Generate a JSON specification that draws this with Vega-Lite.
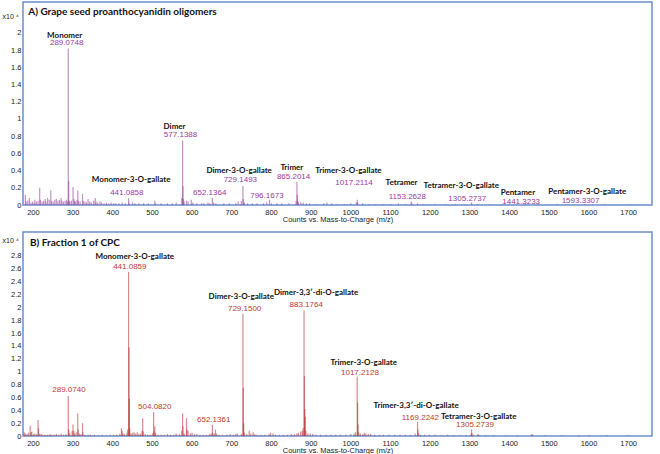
{
  "$schema": "https://vega.github.io/schema/vega-lite/v6.json",
  "background": "white",
  "padding": {"left": 1, "top": 1, "right": 0, "bottom": 0},
  "spacing": 7,
  "config": {
    "view": {"stroke": "#6a8fcb", "strokeWidth": 1.5},
    "axis": {"grid": false, "domain": false, "ticks": false, "labelOverlap": false, "labelFont": "Liberation Sans", "labelFontSize": 7.5, "labelColor": "#222", "titleFont": "Liberation Sans", "titleFontSize": 7.5, "titleFontWeight": "normal", "titleColor": "#222"}
  },
  "datasets": {
    "specA": [
      {"mz":181,"i":0.12},{"mz":183,"i":0.04},{"mz":187,"i":0.05},{"mz":191,"i":0.08},{"mz":195,"i":0.03},{"mz":199,"i":0.04},{"mz":203,"i":0.03},{"mz":205,"i":0.06},{"mz":209,"i":0.04},{"mz":213,"i":0.05},{"mz":217,"i":0.2},{"mz":219,"i":0.06},{"mz":223,"i":0.04},{"mz":227,"i":0.05},{"mz":231,"i":0.07},{"mz":233,"i":0.04},{"mz":237,"i":0.08},{"mz":241,"i":0.06},{"mz":245,"i":0.17},{"mz":247,"i":0.05},{"mz":251,"i":0.04},{"mz":255,"i":0.06},{"mz":259,"i":0.07},{"mz":263,"i":0.05},{"mz":267,"i":0.06},{"mz":271,"i":0.08},{"mz":273,"i":0.05},{"mz":277,"i":0.04},{"mz":281,"i":0.05},{"mz":285,"i":0.06},{"mz":287,"i":0.04},{"mz":289.07,"i":1.82},{"mz":290.08,"i":0.28},{"mz":291.08,"i":0.05},{"mz":293,"i":0.04},{"mz":297,"i":0.05},{"mz":301,"i":0.21},{"mz":303,"i":0.07},{"mz":305,"i":0.05},{"mz":307,"i":0.04},{"mz":311,"i":0.06},{"mz":313,"i":0.17},{"mz":315,"i":0.05},{"mz":319,"i":0.04},{"mz":325,"i":0.13},{"mz":327,"i":0.05},{"mz":331,"i":0.04},{"mz":335,"i":0.03},{"mz":339,"i":0.07},{"mz":343,"i":0.04},{"mz":347,"i":0.03},{"mz":353,"i":0.05},{"mz":357,"i":0.08},{"mz":359,"i":0.04},{"mz":363,"i":0.03},{"mz":369,"i":0.04},{"mz":373,"i":0.03},{"mz":379,"i":0.02},{"mz":385,"i":0.03},{"mz":391,"i":0.02},{"mz":397,"i":0.03},{"mz":403,"i":0.02},{"mz":409,"i":0.02},{"mz":417,"i":0.02},{"mz":425,"i":0.03},{"mz":433,"i":0.02},{"mz":441.09,"i":0.08},{"mz":442.09,"i":0.03},{"mz":451,"i":0.03},{"mz":457,"i":0.02},{"mz":467,"i":0.02},{"mz":479,"i":0.02},{"mz":491,"i":0.02},{"mz":507,"i":0.05},{"mz":509,"i":0.02},{"mz":523,"i":0.02},{"mz":539,"i":0.02},{"mz":551,"i":0.02},{"mz":561,"i":0.03},{"mz":575,"i":0.08},{"mz":577.14,"i":0.75},{"mz":578.14,"i":0.22},{"mz":579.14,"i":0.07},{"mz":581,"i":0.04},{"mz":587,"i":0.05},{"mz":591,"i":0.04},{"mz":599,"i":0.06},{"mz":603,"i":0.03},{"mz":613,"i":0.02},{"mz":625,"i":0.02},{"mz":631,"i":0.02},{"mz":641,"i":0.03},{"mz":645,"i":0.02},{"mz":652.14,"i":0.08},{"mz":655,"i":0.03},{"mz":661,"i":0.02},{"mz":681,"i":0.02},{"mz":695,"i":0.02},{"mz":711,"i":0.02},{"mz":717,"i":0.04},{"mz":725,"i":0.05},{"mz":729.15,"i":0.22},{"mz":730.15,"i":0.07},{"mz":733,"i":0.03},{"mz":741,"i":0.02},{"mz":753,"i":0.02},{"mz":765,"i":0.02},{"mz":781,"i":0.02},{"mz":789,"i":0.03},{"mz":796.17,"i":0.06},{"mz":801,"i":0.02},{"mz":815,"i":0.02},{"mz":827,"i":0.02},{"mz":845,"i":0.02},{"mz":863,"i":0.05},{"mz":865.2,"i":0.27},{"mz":866.2,"i":0.12},{"mz":867,"i":0.05},{"mz":869,"i":0.03},{"mz":875,"i":0.03},{"mz":881,"i":0.03},{"mz":889,"i":0.02},{"mz":897,"i":0.02},{"mz":913,"i":0.01},{"mz":933,"i":0.02},{"mz":941,"i":0.03},{"mz":953,"i":0.02},{"mz":967,"i":0.01},{"mz":985,"i":0.01},{"mz":1001,"i":0.02},{"mz":1015,"i":0.03},{"mz":1017.21,"i":0.06},{"mz":1018.2,"i":0.03},{"mz":1031,"i":0.02},{"mz":1047,"i":0.01},{"mz":1063,"i":0.01},{"mz":1081,"i":0.01},{"mz":1103,"i":0.01},{"mz":1121,"i":0.02},{"mz":1139,"i":0.01},{"mz":1153.26,"i":0.04},{"mz":1155,"i":0.02},{"mz":1169,"i":0.02},{"mz":1185,"i":0.01},{"mz":1213,"i":0.01},{"mz":1241,"i":0.01},{"mz":1265,"i":0.01},{"mz":1289,"i":0.01},{"mz":1305.27,"i":0.03},{"mz":1321,"i":0.01},{"mz":1351,"i":0.01},{"mz":1383,"i":0.01},{"mz":1441.32,"i":0.01},{"mz":1473,"i":0.01},{"mz":1521,"i":0.01},{"mz":1593.33,"i":0.01},{"mz":1641,"i":0.01},{"mz":1705,"i":0.01}
    ],
    "specB": [
      {"mz":178,"i":0.06},{"mz":181,"i":0.04},{"mz":185,"i":0.03},{"mz":189,"i":0.05},{"mz":193,"i":0.16},{"mz":195,"i":0.06},{"mz":197,"i":0.07},{"mz":201,"i":0.03},{"mz":205,"i":0.04},{"mz":209,"i":0.03},{"mz":213,"i":0.25},{"mz":214,"i":0.12},{"mz":217,"i":0.04},{"mz":221,"i":0.03},{"mz":225,"i":0.02},{"mz":231,"i":0.02},{"mz":237,"i":0.02},{"mz":243,"i":0.03},{"mz":247,"i":0.02},{"mz":253,"i":0.02},{"mz":259,"i":0.03},{"mz":265,"i":0.02},{"mz":271,"i":0.04},{"mz":277,"i":0.02},{"mz":283,"i":0.03},{"mz":289.07,"i":0.62},{"mz":290.08,"i":0.1},{"mz":293,"i":0.05},{"mz":299,"i":0.08},{"mz":301,"i":0.18},{"mz":303,"i":0.08},{"mz":305,"i":0.04},{"mz":309,"i":0.06},{"mz":313,"i":0.35},{"mz":314,"i":0.1},{"mz":317,"i":0.04},{"mz":321,"i":0.03},{"mz":325,"i":0.2},{"mz":326,"i":0.06},{"mz":331,"i":0.02},{"mz":339,"i":0.02},{"mz":345,"i":0.02},{"mz":355,"i":0.02},{"mz":365,"i":0.01},{"mz":375,"i":0.02},{"mz":385,"i":0.01},{"mz":395,"i":0.02},{"mz":403,"i":0.02},{"mz":411,"i":0.02},{"mz":419,"i":0.03},{"mz":423,"i":0.12},{"mz":425,"i":0.08},{"mz":427,"i":0.04},{"mz":431,"i":0.03},{"mz":437,"i":0.05},{"mz":439,"i":0.1},{"mz":441.09,"i":2.55},{"mz":442.09,"i":1.38},{"mz":443.09,"i":0.58},{"mz":444,"i":0.12},{"mz":447,"i":0.04},{"mz":451,"i":0.05},{"mz":455,"i":0.06},{"mz":459,"i":0.04},{"mz":463,"i":0.06},{"mz":467,"i":0.03},{"mz":471,"i":0.04},{"mz":475,"i":0.08},{"mz":476.5,"i":0.27},{"mz":478,"i":0.07},{"mz":483,"i":0.03},{"mz":489,"i":0.02},{"mz":495,"i":0.02},{"mz":501,"i":0.04},{"mz":504.08,"i":0.37},{"mz":505.08,"i":0.08},{"mz":507,"i":0.15},{"mz":509,"i":0.05},{"mz":515,"i":0.02},{"mz":523,"i":0.02},{"mz":531,"i":0.02},{"mz":539,"i":0.03},{"mz":547,"i":0.02},{"mz":555,"i":0.02},{"mz":561,"i":0.04},{"mz":569,"i":0.03},{"mz":575,"i":0.08},{"mz":577.13,"i":0.35},{"mz":578.13,"i":0.15},{"mz":581,"i":0.04},{"mz":587,"i":0.28},{"mz":588,"i":0.1},{"mz":591,"i":0.08},{"mz":597,"i":0.04},{"mz":601,"i":0.05},{"mz":607,"i":0.03},{"mz":613,"i":0.03},{"mz":621,"i":0.02},{"mz":629,"i":0.02},{"mz":637,"i":0.02},{"mz":645,"i":0.03},{"mz":649,"i":0.04},{"mz":652.14,"i":0.17},{"mz":653.14,"i":0.05},{"mz":657,"i":0.04},{"mz":660,"i":0.1},{"mz":663,"i":0.04},{"mz":669,"i":0.02},{"mz":677,"i":0.02},{"mz":689,"i":0.02},{"mz":697,"i":0.03},{"mz":705,"i":0.02},{"mz":711,"i":0.03},{"mz":715,"i":0.04},{"mz":725,"i":0.03},{"mz":729.15,"i":1.9},{"mz":730.15,"i":0.75},{"mz":731.15,"i":0.2},{"mz":733,"i":0.05},{"mz":739,"i":0.03},{"mz":745,"i":0.08},{"mz":749,"i":0.04},{"mz":755,"i":0.06},{"mz":759,"i":0.03},{"mz":765,"i":0.02},{"mz":775,"i":0.02},{"mz":785,"i":0.02},{"mz":795,"i":0.03},{"mz":799,"i":0.05},{"mz":805,"i":0.04},{"mz":811,"i":0.02},{"mz":821,"i":0.02},{"mz":831,"i":0.02},{"mz":841,"i":0.02},{"mz":851,"i":0.03},{"mz":859,"i":0.03},{"mz":865,"i":0.04},{"mz":869,"i":0.05},{"mz":875,"i":0.07},{"mz":879,"i":0.08},{"mz":881,"i":0.12},{"mz":883.18,"i":1.95},{"mz":884.18,"i":0.93},{"mz":885.18,"i":0.42},{"mz":886,"i":0.3},{"mz":888,"i":0.08},{"mz":893,"i":0.04},{"mz":899,"i":0.04},{"mz":905,"i":0.03},{"mz":913,"i":0.02},{"mz":925,"i":0.02},{"mz":939,"i":0.02},{"mz":951,"i":0.02},{"mz":963,"i":0.02},{"mz":975,"i":0.02},{"mz":989,"i":0.02},{"mz":1001,"i":0.03},{"mz":1009,"i":0.04},{"mz":1013,"i":0.06},{"mz":1017.21,"i":0.92},{"mz":1018.21,"i":0.52},{"mz":1019.21,"i":0.18},{"mz":1021,"i":0.06},{"mz":1025,"i":0.04},{"mz":1031,"i":0.03},{"mz":1035,"i":0.05},{"mz":1039,"i":0.04},{"mz":1045,"i":0.03},{"mz":1051,"i":0.03},{"mz":1061,"i":0.02},{"mz":1073,"i":0.02},{"mz":1083,"i":0.02},{"mz":1097,"i":0.02},{"mz":1111,"i":0.02},{"mz":1125,"i":0.02},{"mz":1139,"i":0.02},{"mz":1151,"i":0.02},{"mz":1163,"i":0.04},{"mz":1169.22,"i":0.22},{"mz":1170.22,"i":0.1},{"mz":1172,"i":0.04},{"mz":1177,"i":0.02},{"mz":1187,"i":0.02},{"mz":1199,"i":0.02},{"mz":1213,"i":0.02},{"mz":1229,"i":0.01},{"mz":1245,"i":0.02},{"mz":1261,"i":0.01},{"mz":1277,"i":0.01},{"mz":1291,"i":0.01},{"mz":1303,"i":0.02},{"mz":1305.27,"i":0.1},{"mz":1306.27,"i":0.05},{"mz":1309,"i":0.02},{"mz":1321,"i":0.03},{"mz":1323,"i":0.02},{"mz":1341,"i":0.01},{"mz":1361,"i":0.01},{"mz":1391,"i":0.01},{"mz":1421,"i":0.01},{"mz":1457,"i":0.03},{"mz":1459,"i":0.02},{"mz":1491,"i":0.01},{"mz":1533,"i":0.01},{"mz":1575,"i":0.01},{"mz":1601,"i":0.01},{"mz":1647,"i":0.01},{"mz":1699,"i":0.01}
    ],
    "labA": [
      {"kind":"title","mz":188.3,"y":2.24,"text":"A) Grape seed proanthocyanidin oligomers"},
      {"kind":"name","mz":280,"y":1.97,"text":"Monomer"},
      {"kind":"mass","mz":285,"y":1.88,"text":"289.0748"},
      {"kind":"name","mz":557,"y":0.91,"text":"Dimer"},
      {"kind":"mass","mz":572,"y":0.81,"text":"577.1388"},
      {"kind":"name","mz":447.5,"y":0.29,"text":"Monomer-3-O-gallate"},
      {"kind":"mass","mz":436.6,"y":0.14,"text":"441.0858"},
      {"kind":"mass","mz":645.4,"y":0.14,"text":"652.1364"},
      {"kind":"name","mz":719.7,"y":0.39,"text":"Dimer-3-O-gallate"},
      {"kind":"mass","mz":722.7,"y":0.29,"text":"729.1493"},
      {"kind":"mass","mz":789.6,"y":0.11,"text":"796.1673"},
      {"kind":"name","mz":852.5,"y":0.43,"text":"Trimer"},
      {"kind":"mass","mz":856.8,"y":0.32,"text":"865.2014"},
      {"kind":"name","mz":995,"y":0.4,"text":"Trimer-3-O-gallate"},
      {"kind":"mass","mz":1009,"y":0.25,"text":"1017.2114"},
      {"kind":"name","mz":1129,"y":0.25,"text":"Tetramer"},
      {"kind":"mass","mz":1143.5,"y":0.09,"text":"1153.2628"},
      {"kind":"name","mz":1279.4,"y":0.22,"text":"Tetramer-3-O-gallate"},
      {"kind":"mass","mz":1294.5,"y":0.07,"text":"1305.2737"},
      {"kind":"name","mz":1422,"y":0.14,"text":"Pentamer"},
      {"kind":"mass","mz":1430.3,"y":0.04,"text":"1441.3233"},
      {"kind":"name","mz":1597,"y":0.15,"text":"Pentamer-3-O-gallate"},
      {"kind":"mass","mz":1580,"y":0.05,"text":"1593.3307"}
    ],
    "labB": [
      {"kind":"title","mz":192.6,"y":3.0,"text":"B) Fraction 1 of CPC"},
      {"kind":"name","mz":456.8,"y":2.78,"text":"Monomer-3-O-gallate"},
      {"kind":"mass","mz":444.2,"y":2.62,"text":"441.0859"},
      {"kind":"mass","mz":290.7,"y":0.72,"text":"289.0740"},
      {"kind":"mass","mz":507,"y":0.45,"text":"504.0820"},
      {"kind":"mass","mz":655.5,"y":0.25,"text":"652.1361"},
      {"kind":"name","mz":725.2,"y":2.16,"text":"Dimer-3-O-gallate"},
      {"kind":"mass","mz":733.5,"y":1.98,"text":"729.1500"},
      {"kind":"name","mz":913.6,"y":2.22,"text":"Dimer-3,3′-di-O-gallate"},
      {"kind":"mass","mz":888.7,"y":2.03,"text":"883.1764"},
      {"kind":"name","mz":1033.6,"y":1.13,"text":"Trimer-3-O-gallate"},
      {"kind":"mass","mz":1024,"y":0.98,"text":"1017.2128"},
      {"kind":"name","mz":1165.5,"y":0.47,"text":"Trimer-3,3′-di-O-gallate"},
      {"kind":"mass","mz":1176.3,"y":0.28,"text":"1169.2242"},
      {"kind":"name","mz":1323.4,"y":0.3,"text":"Tetramer-3-O-gallate"},
      {"kind":"mass","mz":1313.9,"y":0.17,"text":"1305.2739"}
    ]
  },
  "vconcat": [
    {
      "width": 629,
      "height": 203,
      "layer": [
        {
          "data": {"name": "specA"},
          "mark": {"type": "rule", "color": "#9a4a9e", "strokeWidth": 1.2, "opacity": 0.6},
          "encoding": {
            "x": {"field": "mz", "type": "quantitative", "scale": {"domain": [175, 1760], "nice": false, "zero": false}, "axis": {"values": [200,300,400,500,600,700,800,900,1000,1100,1200,1300,1400,1500,1600,1700], "tickCount": 40, "format": "d", "labelPadding": 3, "title": "Counts vs. Mass-to-Charge (m/z)", "titlePadding": 0}},
            "y": {"field": "i", "type": "quantitative", "scale": {"domain": [0, 2.36], "nice": false}, "axis": {"values": [0,0.2,0.4,0.6,0.8,1,1.2,1.4,1.6,1.8,2], "tickCount": 40, "format": "~g", "labelPadding": 2, "title": "x10 ⁴", "titleAngle": 0, "titleAlign": "left", "titleBaseline": "middle", "titleX": -21, "titleY": 14, "titleFontSize": 7}},
            "y2": {"datum": 0}
          }
        },
        {
          "data": {"name": "labA"},
          "transform": [{"filter": "datum.kind === 'name'"}],
          "mark": {"type": "text", "font": "Lato", "fontWeight": "bold", "fontSize": 8, "color": "#111", "align": "center", "baseline": "middle"},
          "encoding": {"x": {"field": "mz", "type": "quantitative"}, "y": {"field": "y", "type": "quantitative"}, "text": {"field": "text"}}
        },
        {
          "data": {"name": "labA"},
          "transform": [{"filter": "datum.kind === 'mass'"}],
          "mark": {"type": "text", "font": "Liberation Sans", "fontSize": 8, "color": "#9b3a9e", "align": "center", "baseline": "middle"},
          "encoding": {"x": {"field": "mz", "type": "quantitative"}, "y": {"field": "y", "type": "quantitative"}, "text": {"field": "text"}}
        },
        {
          "data": {"name": "labA"},
          "transform": [{"filter": "datum.kind === 'title'"}],
          "mark": {"type": "text", "font": "Lato", "fontWeight": "bold", "fontSize": 10, "color": "#111", "align": "left", "baseline": "middle"},
          "encoding": {"x": {"field": "mz", "type": "quantitative"}, "y": {"field": "y", "type": "quantitative"}, "text": {"field": "text"}}
        }
      ]
    },
    {
      "width": 629,
      "height": 204,
      "layer": [
        {
          "data": {"name": "specB"},
          "mark": {"type": "rule", "color": "#b52d30", "strokeWidth": 1.2, "opacity": 0.55},
          "encoding": {
            "x": {"field": "mz", "type": "quantitative", "scale": {"domain": [175, 1760], "nice": false, "zero": false}, "axis": {"values": [200,300,400,500,600,700,800,900,1000,1100,1200,1300,1400,1500,1600,1700], "tickCount": 40, "format": "d", "labelPadding": 3, "title": "Counts vs. Mass-to-Charge (m/z)", "titlePadding": 0}},
            "y": {"field": "i", "type": "quantitative", "scale": {"domain": [0, 3.17], "nice": false}, "axis": {"values": [0,0.2,0.4,0.6,0.8,1,1.2,1.4,1.6,1.8,2,2.2,2.4,2.6,2.8], "tickCount": 40, "format": "~g", "labelPadding": 2, "title": "x10 ⁴", "titleAngle": 0, "titleAlign": "left", "titleBaseline": "middle", "titleX": -21, "titleY": 8, "titleFontSize": 7}},
            "y2": {"datum": 0}
          }
        },
        {
          "data": {"name": "labB"},
          "transform": [{"filter": "datum.kind === 'name'"}],
          "mark": {"type": "text", "font": "Lato", "fontWeight": "bold", "fontSize": 8, "color": "#111", "align": "center", "baseline": "middle"},
          "encoding": {"x": {"field": "mz", "type": "quantitative"}, "y": {"field": "y", "type": "quantitative"}, "text": {"field": "text"}}
        },
        {
          "data": {"name": "labB"},
          "transform": [{"filter": "datum.kind === 'mass'"}],
          "mark": {"type": "text", "font": "Liberation Sans", "fontSize": 8, "color": "#c0392b", "align": "center", "baseline": "middle"},
          "encoding": {"x": {"field": "mz", "type": "quantitative"}, "y": {"field": "y", "type": "quantitative"}, "text": {"field": "text"}}
        },
        {
          "data": {"name": "labB"},
          "transform": [{"filter": "datum.kind === 'title'"}],
          "mark": {"type": "text", "font": "Lato", "fontWeight": "bold", "fontSize": 10, "color": "#111", "align": "left", "baseline": "middle"},
          "encoding": {"x": {"field": "mz", "type": "quantitative"}, "y": {"field": "y", "type": "quantitative"}, "text": {"field": "text"}}
        }
      ]
    }
  ]
}
